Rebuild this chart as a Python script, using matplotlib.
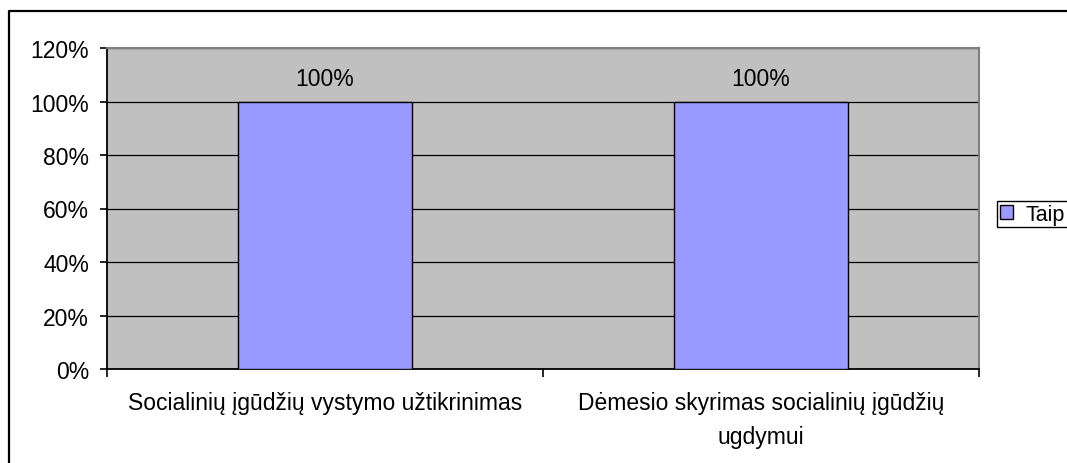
"""
Bar chart: Taip answers per category (Excel-style look)
"""
import numpy as np
import matplotlib as mpl
import matplotlib.pyplot as plt
from matplotlib.lines import Line2D

mpl.rcParams['font.family'] = ['Liberation Sans', 'DejaVu Sans']
mpl.rcParams['font.size'] = 16.5

# data
categories = ["Socialinių įgūdžių vystymo užtikrinimas",
              "Dėmesio skyrimas socialinių įgūdžių\nugdymui"]
taip = [1.00, 1.00]
series_name = "Taip"
yticks = [0, 0.2, 0.4, 0.6, 0.8, 1.0, 1.2]

W, H = 1067, 464
fig = plt.figure(figsize=(W / 100, H / 100), dpi=100)
fig.patch.set_facecolor('white')

# plot area placed like the original (pixel edges converted to fractions)
ax = fig.add_axes([107 / W, (H - 370) / H, (979 - 107) / W, (370 - 49) / H])
ax.set_facecolor('#C0C0C0')

x = np.arange(len(categories))
bars = ax.bar(x, taip, width=0.4, color='#9999FF', edgecolor='black',
              linewidth=1.0, zorder=3, label=series_name)
ax.bar_label(bars, labels=[f"{v:.0%}" for v in taip], padding=8)

# axes limits and ticks
ax.set_xlim(-0.5, len(categories) - 0.5)
ax.set_ylim(0, 1.2)
ax.set_yticks(yticks)
ax.set_yticklabels([f"{t:.0%}" for t in yticks])
ax.yaxis.grid(True, color='black', linewidth=0.9, zorder=1)
ax.set_axisbelow(True)

ax.set_xticks(x)
ax.set_xticklabels(categories, linespacing=1.6)
ax.set_xticks(np.arange(len(categories) + 1) - 0.5, minor=True)
ax.tick_params(axis='x', which='major', length=0, pad=16)
ax.tick_params(axis='x', which='minor', length=6, width=1.2, direction='out')
ax.tick_params(axis='y', length=5, width=1.2, direction='out', pad=8)

for side in ['left', 'bottom']:
    ax.spines[side].set_color('black')
    ax.spines[side].set_linewidth(1.3)
for side in ['top', 'right']:
    ax.spines[side].set_color('#808080')
    ax.spines[side].set_linewidth(1.5)

# legend on the right, box runs past the image edge
leg = fig.legend(handles=[bars], labels=[series_name], loc='upper left',
                 mode='expand',
                 bbox_to_anchor=(997 / W, (H - 226) / H, 110 / W, 24 / H),
                 fontsize=15.5, frameon=True, fancybox=False, framealpha=1,
                 edgecolor='black', borderpad=0.12, borderaxespad=0,
                 handlelength=0.6, handleheight=0.6, handletextpad=0.6)
leg.get_frame().set_linewidth(1.0)

# outer chart frame (only top and left edges visible)
fig.add_artist(Line2D([8.5 / W, 8.5 / W, 1.0], [0, (H - 11.5) / H, (H - 11.5) / H],
                      transform=fig.transFigure, color='black', linewidth=1.6))

fig.savefig('out.png', dpi=100)
